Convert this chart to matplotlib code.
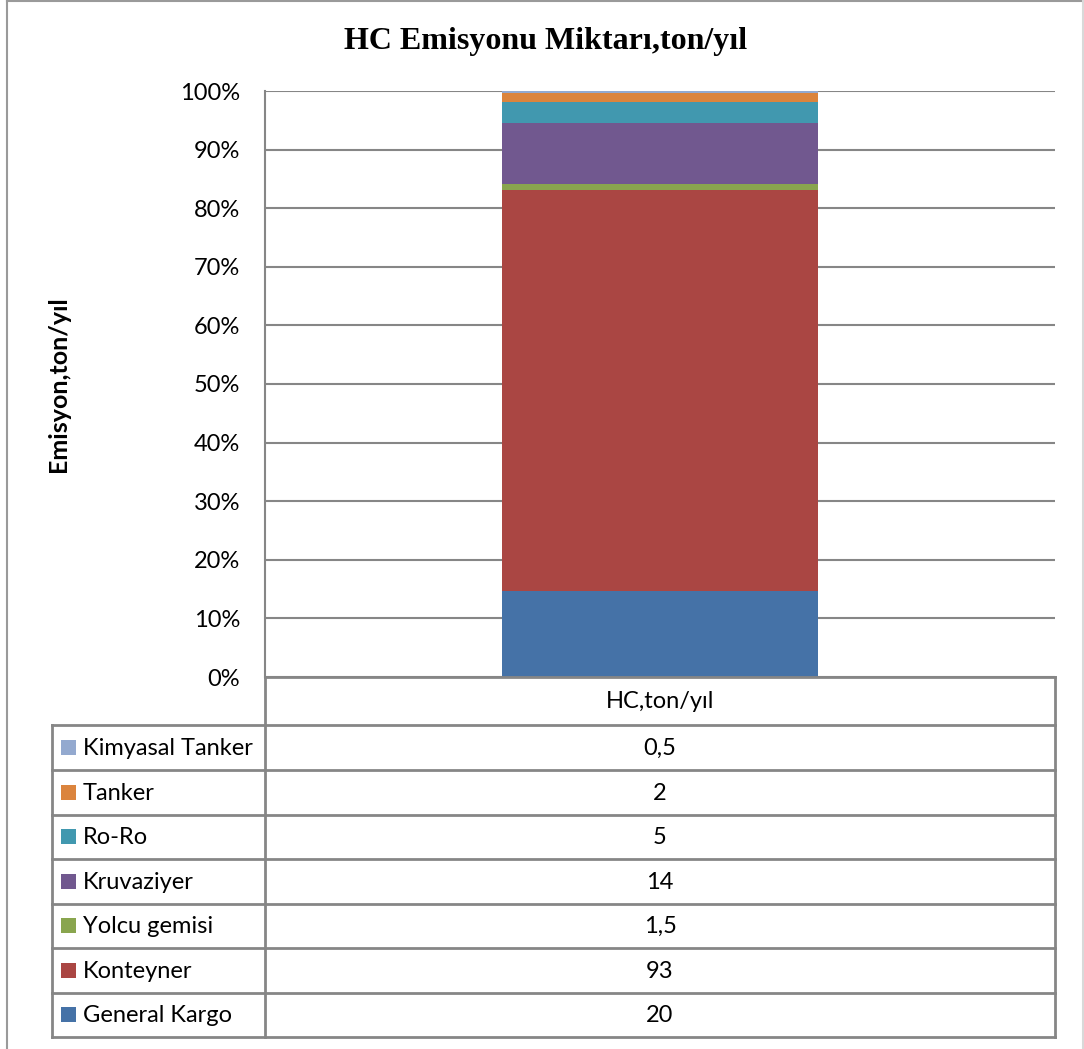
import matplotlib
matplotlib.use("Agg")
import matplotlib.pyplot as plt
from matplotlib.lines import Line2D
from matplotlib.patches import Rectangle

# ---- data ----
categories = ["General Kargo", "Konteyner", "Yolcu gemisi", "Kruvaziyer", "Ro-Ro", "Tanker", "Kimyasal Tanker"]
values = [20, 93, 1.5, 14, 5, 2, 0.5]
value_labels = ["20", "93", "1,5", "14", "5", "2", "0,5"]
colors = ["#4572A7", "#AA4643", "#89A54E", "#71588F", "#4198AF", "#DB843D", "#93A9CF"]
x_label = "HC,ton/yıl"
yticks = [0, 10, 20, 30, 40, 50, 60, 70, 80, 90, 100]
ytick_labels = [f"{t}%" for t in yticks]
title = "HC Emisyonu Miktarı,ton/yıl"
ylabel = "Emisyon,ton/yıl"

W, H = 1084, 1049
fig = plt.figure(figsize=(W / 100, H / 100), dpi=100)
fig.patch.set_facecolor("white")

def fx(px):
    return px / W

def fy(py):
    return 1 - py / H

FONT = "Lato"
FS = 17
GRID = "#868686"

# axes area (pixels)
ax_l, ax_r, ax_t, ax_b = 265, 1055, 91, 677
ax = fig.add_axes([fx(ax_l), fy(ax_b), fx(ax_r - ax_l), fy(ax_t) - fy(ax_b)])
ax.set_xlim(-0.5, 0.5)
ax.set_ylim(0, 100)

total = sum(values)
bottom = 0.0
for v, c in zip(values, colors):
    pct = v / total * 100
    ax.bar(0, pct, width=0.401, bottom=bottom, color=c, zorder=3, linewidth=0)
    bottom += pct

ax.set_yticks(yticks)
ax.set_yticklabels(ytick_labels, fontsize=FS, family=FONT)
ax.tick_params(axis="y", length=0, pad=18)
ax.set_xticks([])
ax.yaxis.grid(True, color=GRID, linewidth=1.5, zorder=0)
for s in ["top", "right", "bottom"]:
    ax.spines[s].set_visible(False)
ax.spines["left"].set_color(GRID)
ax.spines["left"].set_linewidth(1.5)

# title and y label
fig.text(fx(546), fy(42), title, ha="center", va="center", fontsize=23,
         fontweight="bold", family="Liberation Serif")
fig.text(fx(58), fy(384), ylabel, ha="center", va="center", rotation=90,
         fontsize=18, fontweight="bold", family=FONT)

# ---- data table below axes ----
rows_y = [677, 725, 769.5, 814.5, 859, 903.5, 948, 992.5, 1037]
left_col = 52

def hline(x0, x1, y):
    fig.add_artist(Line2D([fx(x0), fx(x1)], [fy(y), fy(y)], color=GRID, linewidth=2,
                          transform=fig.transFigure, solid_capstyle="projecting"))

def vline(x, y0, y1):
    fig.add_artist(Line2D([fx(x), fx(x)], [fy(y0), fy(y1)], color=GRID, linewidth=2,
                          transform=fig.transFigure, solid_capstyle="projecting"))

# header row
hline(ax_l, ax_r, rows_y[0])
vline(ax_l, ax_b, rows_y[-1])
vline(ax_r, rows_y[0], rows_y[-1])
for y in rows_y[1:]:
    hline(left_col, ax_r, y)
vline(left_col, rows_y[1], rows_y[-1])

fig.text(fx((ax_l + ax_r) / 2), fy((rows_y[0] + rows_y[1]) / 2 + 1), x_label,
         ha="center", va="center", fontsize=FS, family=FONT)

# rows: top row is last category
order = list(range(len(categories)))[::-1]
for i, idx in enumerate(order):
    yc = (rows_y[i + 1] + rows_y[i + 2]) / 2
    sq = 15
    fig.add_artist(Rectangle((fx(61), fy(yc + sq / 2)), fx(sq), fy(0) - fy(sq),
                             facecolor=colors[idx], edgecolor="none",
                             transform=fig.transFigure))
    fig.text(fx(83), fy(yc + 1), categories[idx], ha="left", va="center",
             fontsize=FS, family=FONT)
    fig.text(fx((ax_l + ax_r) / 2), fy(yc + 1), value_labels[idx], ha="center",
             va="center", fontsize=FS, family=FONT)

# outer border
fig.add_artist(Line2D([fx(6.5), fx(6.5)], [fy(0), fy(H)], color="#9a9a9a", linewidth=1.5,
                      transform=fig.transFigure))
fig.add_artist(Line2D([fx(6.5), fx(1083)], [fy(0.8), fy(0.8)], color="#9a9a9a", linewidth=1.5,
                      transform=fig.transFigure))
fig.add_artist(Line2D([fx(1083), fx(1083)], [fy(0), fy(H)], color="#d9d9d9", linewidth=1.5,
                      transform=fig.transFigure))

fig.savefig("out.png", dpi=100, facecolor="white")
